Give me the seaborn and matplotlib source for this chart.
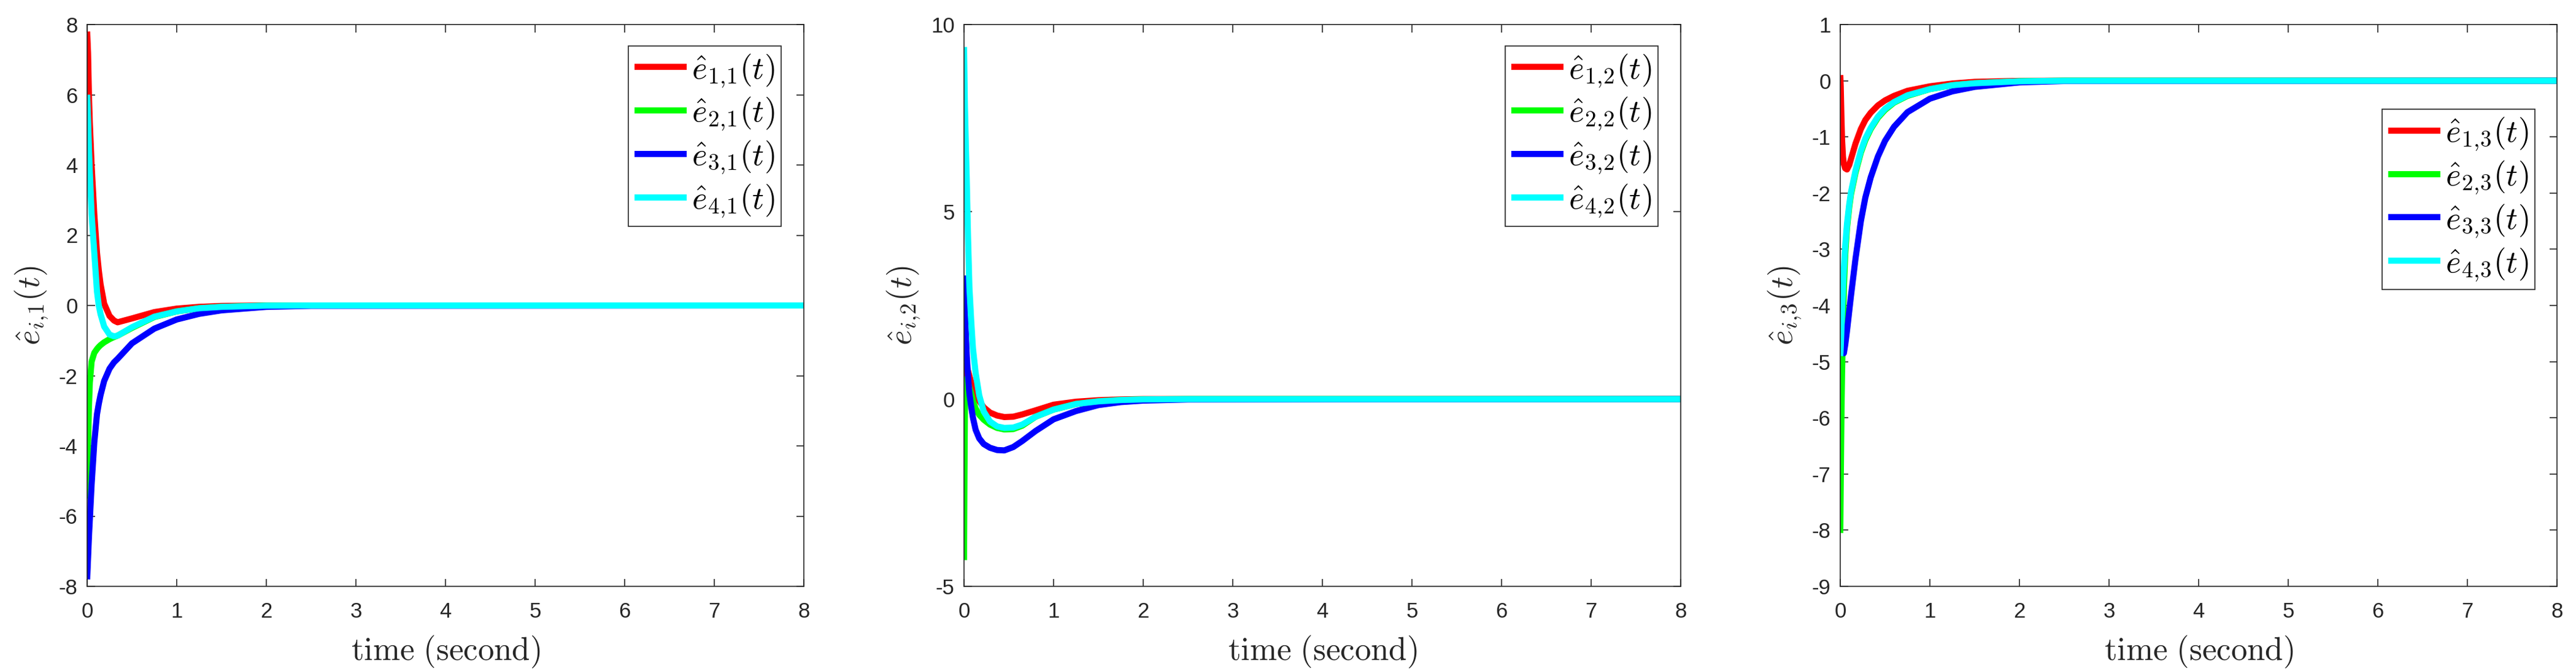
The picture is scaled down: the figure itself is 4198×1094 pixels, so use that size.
import numpy as np
import pandas as pd
import matplotlib
matplotlib.use("Agg")
import matplotlib.pyplot as plt
import seaborn as sns

# ---------------- data ----------------
t_p1 = [0, 0.01, 0.02, 0.03, 0.05, 0.08, 0.11, 0.13, 0.15, 0.19, 0.25, 0.30, 0.34,
        0.5, 0.75, 1.0, 1.25, 1.5, 2.0, 2.5, 8.0]
e11 = [7.8, 7.2, 6.0, 5.2, 4.0, 2.6, 1.5, 1.0, 0.6, 0.05, -0.3, -0.43, -0.48,
       -0.37, -0.19, -0.09, -0.04, -0.015, 0.0, 0.0, 0.0]
e21 = [-5.5, -4.0, -2.9, -2.2, -1.6, -1.35, -1.24, -1.18, -1.13, -1.05, -0.96, -0.90, -0.86,
       -0.64, -0.33, -0.17, -0.08, -0.04, -0.005, 0.0, 0.0]
e31 = [-7.8, -7.2, -6.6, -6.1, -5.1, -3.9, -3.1, -2.8, -2.55, -2.15, -1.8, -1.62, -1.52,
       -1.08, -0.66, -0.40, -0.24, -0.14, -0.04, -0.01, 0.0]
e41 = [6.0, 5.3, 4.5, 3.8, 2.6, 1.5, 0.4, 0.0, -0.25, -0.6, -0.83, -0.88, -0.86,
       -0.62, -0.32, -0.17, -0.08, -0.04, -0.005, 0.0, 0.0]

t_p2 = [0, 0.005, 0.01, 0.02, 0.03, 0.045, 0.06, 0.08, 0.1, 0.13, 0.17, 0.22, 0.29, 0.37,
        0.45, 0.55, 0.65, 0.8, 1.0, 1.25, 1.5, 1.75, 2.0, 2.5, 8.0]
e12 = [-2.0, -0.5, 0.8, 0.9, 0.85, 0.75, 0.62, 0.45, 0.3, 0.12, -0.05, -0.22, -0.36, -0.44,
       -0.48, -0.47, -0.41, -0.3, -0.15, -0.07, -0.03, -0.01, 0.0, 0.0, 0.0]
e22 = [-4.3, -2.0, -0.3, 0.5, 0.55, 0.45, 0.3, 0.15, -0.05, -0.25, -0.42, -0.55, -0.68, -0.77,
       -0.81, -0.80, -0.71, -0.47, -0.28, -0.13, -0.06, -0.025, -0.008, 0.0, 0.0]
e32 = [3.3, 2.8, 2.4, 1.75, 1.2, 0.6, 0.15, -0.2, -0.5, -0.82, -1.05, -1.2, -1.3, -1.36,
       -1.37, -1.28, -1.12, -0.85, -0.54, -0.32, -0.16, -0.08, -0.04, -0.01, 0.0]
e42 = [9.4, 8.6, 7.8, 6.8, 5.9, 4.3, 3.0, 2.1, 1.35, 0.7, 0.1, -0.33, -0.6, -0.73,
       -0.77, -0.76, -0.68, -0.47, -0.28, -0.13, -0.06, -0.025, -0.008, 0.0, 0.0]

t_p3 = [0, 0.005, 0.01, 0.015, 0.02, 0.03, 0.04, 0.055, 0.075, 0.1, 0.12, 0.17, 0.23, 0.28,
        0.34, 0.42, 0.5, 0.6, 0.75, 1.0, 1.25, 1.5, 2.0, 2.5, 8.0]
e13 = [0.1, -0.1, -0.45, -0.78, -1.05, -1.35, -1.48, -1.56, -1.58, -1.5, -1.39, -1.12, -0.86, -0.7,
       -0.57, -0.44, -0.35, -0.27, -0.18, -0.1, -0.05, -0.02, -0.003, 0.0, 0.0]
e23 = [-8.05, -7.2, -6.4, -5.7, -5.2, -4.4, -3.7, -3.1, -2.62, -2.25, -2.02, -1.64, -1.28, -1.06,
       -0.86, -0.66, -0.52, -0.39, -0.27, -0.15, -0.08, -0.045, -0.01, 0.0, 0.0]
e33 = [-4.0, -4.2, -4.4, -4.55, -4.65, -4.8, -4.85, -4.7, -4.45, -4.1, -3.82, -3.17, -2.5, -2.08,
       -1.72, -1.35, -1.07, -0.82, -0.56, -0.32, -0.19, -0.11, -0.03, -0.005, 0.0]
e43 = [-4.9, -4.75, -4.55, -4.32, -4.1, -3.7, -3.35, -2.95, -2.55, -2.2, -1.98, -1.6, -1.25, -1.03,
       -0.84, -0.64, -0.5, -0.38, -0.26, -0.15, -0.08, -0.045, -0.01, 0.0, 0.0]

series_colors = ["#FF0000", "#00FF00", "#0000FF", "#00FFFF"]
y_limits = [(-8, 8), (-5, 10), (-9, 1)]
y_ticks = [list(range(-8, 9, 2)), [-5, 0, 5, 10], list(range(-9, 2, 1))]
x_ticks = list(range(0, 9))
x_label = r"$\mathrm{time\ (second)}$"

panels = [
    (t_p1, [e11, e21, e31, e41], 1),
    (t_p2, [e12, e22, e32, e42], 2),
    (t_p3, [e13, e23, e33, e43], 3),
]

# ---------------- style ----------------
sns.set_style("ticks")
plt.rcParams["font.family"] = ["Liberation Sans", "DejaVu Sans"]
plt.rcParams["mathtext.fontset"] = "cm"
plt.rcParams["axes.unicode_minus"] = False
plt.rcParams["lines.solid_capstyle"] = "butt"

W, H = 4198, 1094
fig = plt.figure(figsize=(W / 100, H / 100), dpi=100)
fig.patch.set_facecolor("white")

ax_lefts = [142, 1571, 2999]
ax_w, ax_top, ax_bot = 1168, 40, 956
legend_anchor = [(0.968, 0.962), (0.968, 0.962), (0.969, 0.849)]
dark = "#262626"

for k, (tt, ys, j) in enumerate(panels):
    ax = fig.add_axes([ax_lefts[k] / W, (H - ax_bot) / H, ax_w / W, (ax_bot - ax_top) / H])
    ax.set_facecolor("white")
    for i, (vals, col) in enumerate(zip(ys, series_colors)):
        df = pd.DataFrame({"t": tt, "v": vals})
        sns.lineplot(data=df, x="t", y="v", ax=ax, color=col, linewidth=7.2,
                     label=rf"$\hat{{e}}_{{{i+1},\!{j}}}(t)$", estimator=None, sort=False)
    ax.set_xlim(0, 8)
    ax.set_ylim(*y_limits[k])
    ax.set_xticks(x_ticks)
    ax.set_yticks(y_ticks[k])
    ax.tick_params(axis="both", direction="in", length=9, width=1.2, colors=dark,
                   labelsize=25, top=True, right=True)
    ax.tick_params(axis="x", pad=18)
    ax.tick_params(axis="y", pad=11)
    for sp in ax.spines.values():
        sp.set_linewidth(1.2)
        sp.set_color(dark)
        sp.set_visible(True)
    ax.set_xlabel(x_label, fontsize=38, color=dark, labelpad=14)
    ax.set_ylabel(rf"$\hat{{e}}_{{i,\!{j}}}(t)$", fontsize=38, color=dark, labelpad=10)
    leg = ax.legend(loc="upper right", bbox_to_anchor=legend_anchor[k], borderaxespad=0,
                    fontsize=38, frameon=True, fancybox=False, framealpha=1,
                    edgecolor=dark, facecolor="white", handlelength=1.6,
                    handletextpad=0.15, labelspacing=0.2, borderpad=0.2)
    leg.get_frame().set_linewidth(1.2)
    for txt in leg.get_texts():
        txt.set_color("black")

fig.savefig("out.png", dpi=100, facecolor="white")
